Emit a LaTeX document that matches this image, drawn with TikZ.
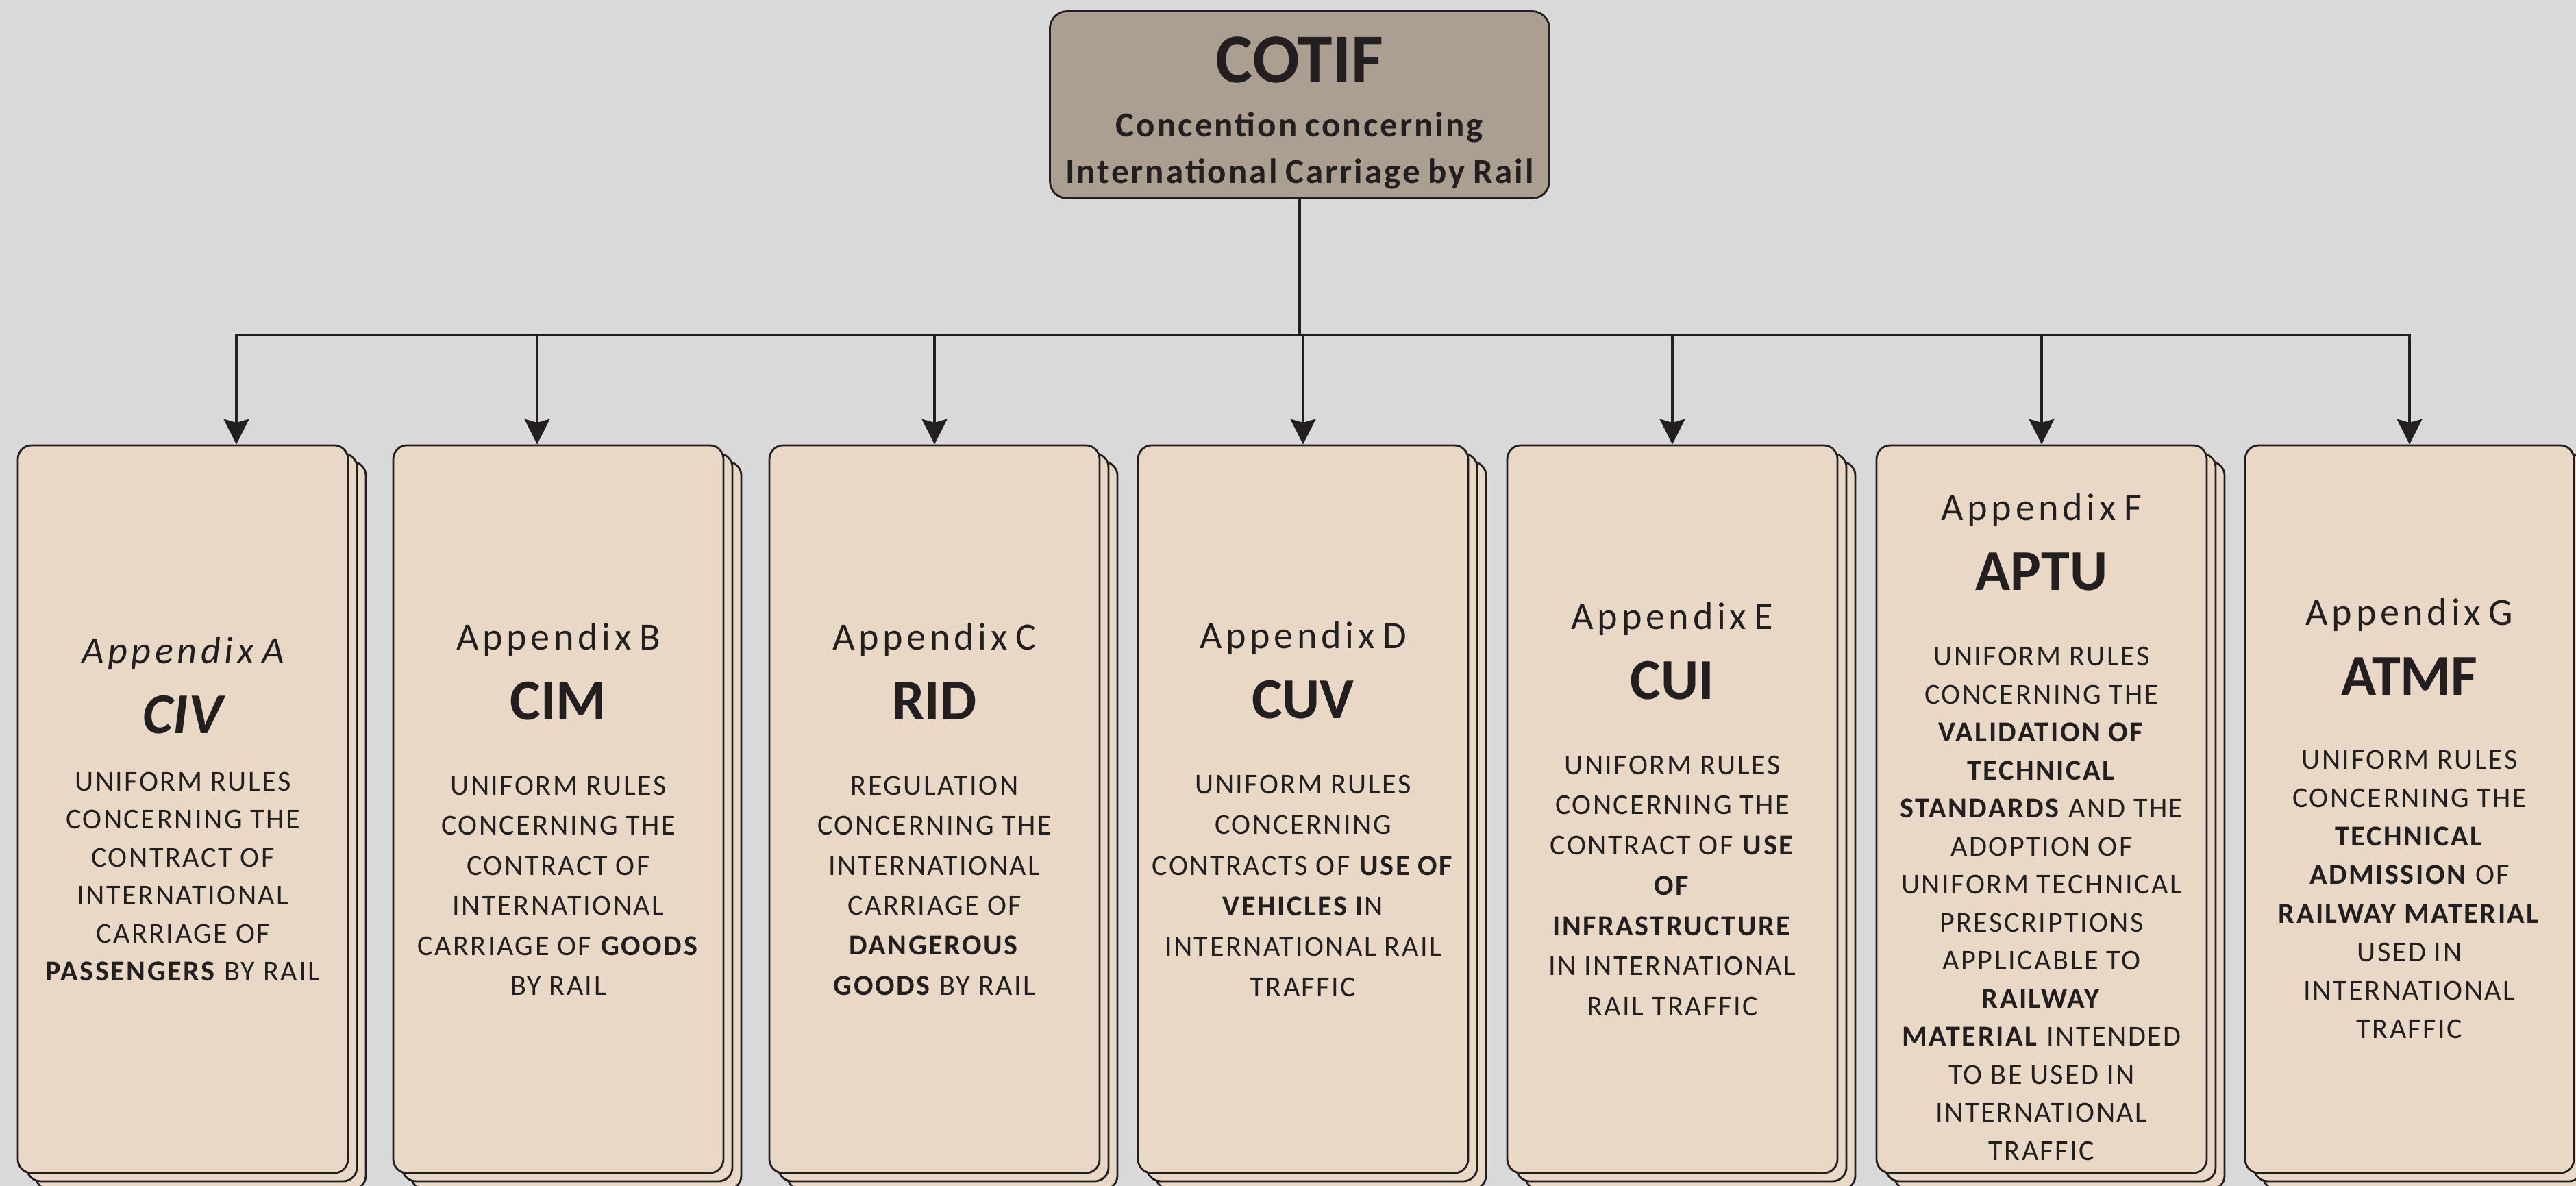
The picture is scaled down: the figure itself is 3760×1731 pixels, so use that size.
\documentclass[tikz,border=0pt]{standalone}
\usepackage{fontspec}
\setmainfont{Carlito}
\newfontfamily\spaced{Carlito}[LetterSpace=6]
\usetikzlibrary{arrows.meta,shadows}

\definecolor{bgcolor}{HTML}{D9D9D9}
\definecolor{boxfill}{HTML}{E8D8C5}
\definecolor{cotiffill}{HTML}{AB9F91}
\definecolor{inkcolor}{HTML}{231F20}

\newcommand\appx[1]{{\spaced\addfontfeature{LetterSpace=10}\fontsize{16}{19}\selectfont #1\par}}
\newcommand\annexname[2][14.7pt]{{\fontsize{24}{29}\selectfont\bfseries #2\par}\vspace{#1}}
\newcommand\annextext[2][16.6pt]{{\spaced\fontsize{12}{#1}\selectfont #2\par}}

\tikzset{
  annexbox/.style={draw=inkcolor, line width=0.8pt, fill=boxfill, rounded corners=2mm,
    minimum width=48.2mm, minimum height=106.2mm, text width=47mm, inner sep=0.5mm,
    align=center, text=inkcolor,
    copy shadow={shadow xshift=2.6mm, shadow yshift=-2.4mm, fill=boxfill, draw=inkcolor, line width=0.8pt},
    copy shadow={shadow xshift=1.3mm, shadow yshift=-1.2mm, fill=boxfill, draw=inkcolor, line width=0.8pt}},
  link/.style={draw=inkcolor, line width=0.9pt, -{Stealth[length=10.5pt,width=10.5pt,inset=1.5pt]}}
}

\begin{document}
\begin{tikzpicture}[x=0.1mm,y=-0.1mm]
  \useasboundingbox (0,0) rectangle (3760,1731);
  \fill[bgcolor] (0,0) rectangle (3760,1731);
  % convention
  \node[draw=inkcolor, line width=0.8pt, fill=cotiffill, rounded corners=2.5mm,
        minimum width=72.9mm, minimum height=27.3mm, text width=72mm, inner sep=0.4mm,
        align=center, text=inkcolor] (cotif) at (1897,153)
    {{\fontsize{29}{34}\selectfont\bfseries COTIF\par}\vspace{3pt}
     {\spaced\bfseries\fontsize{14.5}{19.3}\selectfont Concention concerning\\ International Carriage by Rail\par}\vspace{-6.8pt}};
  % appendices
  \node[annexbox] (civ) at (267,1181) {\appx{\itshape Appendix A}\annexname[8pt]{\itshape CIV}
    \annextext[15.8pt]{UNIFORM RULES\\ CONCERNING THE\\ CONTRACT OF\\ INTERNATIONAL\\ CARRIAGE OF\\ \textbf{PASSENGERS} BY RAIL}};
  \node[annexbox] (cim) at (815,1181) {\appx{Appendix B}\annexname{CIM}
    \annextext{UNIFORM RULES\\ CONCERNING THE\\ CONTRACT OF\\ INTERNATIONAL\\ CARRIAGE OF \textbf{GOODS}\\ BY RAIL}};
  \node[annexbox] (rid) at (1364,1181) {\appx{Appendix C}\annexname{RID}
    \annextext{REGULATION\\ CONCERNING THE\\ INTERNATIONAL\\ CARRIAGE OF\\ \textbf{DANGEROUS}\\ \textbf{GOODS} BY RAIL}};
  \node[annexbox] (cuv) at (1902,1181) {\appx{Appendix D}\annexname[14.6pt]{CUV}
    \annextext[16.8pt]{UNIFORM RULES\\ CONCERNING\\ CONTRACTS OF \textbf{USE OF}\\ \textbf{VEHICLES I}N\\ INTERNATIONAL RAIL\\ TRAFFIC}};
  \node[annexbox] (cui) at (2441,1181) {\appx{Appendix E}\annexname[14.6pt]{CUI}
    \annextext[16.7pt]{UNIFORM RULES\\ CONCERNING THE\\ CONTRACT OF \textbf{USE}\\ \textbf{OF}\\ \textbf{INFRASTRUCTURE}\\ IN INTERNATIONAL\\ RAIL TRAFFIC}};
  \node[annexbox] (aptu) at (2980,1181) {\par\vspace*{7pt}\appx{Appendix F}\annexname[15.5pt]{APTU}
    \annextext[15.8pt]{UNIFORM RULES\\ CONCERNING THE\\ \textbf{VALIDATION OF}\\ \textbf{TECHNICAL}\\ \textbf{STANDARDS} AND THE\\ ADOPTION OF\\ UNIFORM TECHNICAL\\ PRESCRIPTIONS\\ APPLICABLE TO\\ \textbf{RAILWAY}\\ \textbf{MATERIAL} INTENDED\\ TO BE USED IN\\ INTERNATIONAL\\ TRAFFIC}};
  \node[annexbox, minimum width=47.7mm] (atmf) at (3517,1181) {\par\vspace*{0pt}\appx{Appendix G}\annexname[14.6pt]{ATMF}
    \annextext[16pt]{UNIFORM RULES\\ CONCERNING THE\\ \textbf{TECHNICAL}\\ \textbf{ADMISSION} OF\\ \textbf{RAILWAY MATERIAL}\\ USED IN\\ INTERNATIONAL\\ TRAFFIC}};
  % connectors
  \coordinate (bus) at (1897,489);
  \draw[draw=inkcolor, line width=0.9pt] (cotif.south) -- (bus);
  \foreach \n/\dx in {civ/78,cim/-31,rid/0,cuv/0,cui/0,aptu/0,atmf/0}
    \draw[link] (bus) -| ([xshift=\dx*0.1mm]\n.north);
\end{tikzpicture}
\end{document}
